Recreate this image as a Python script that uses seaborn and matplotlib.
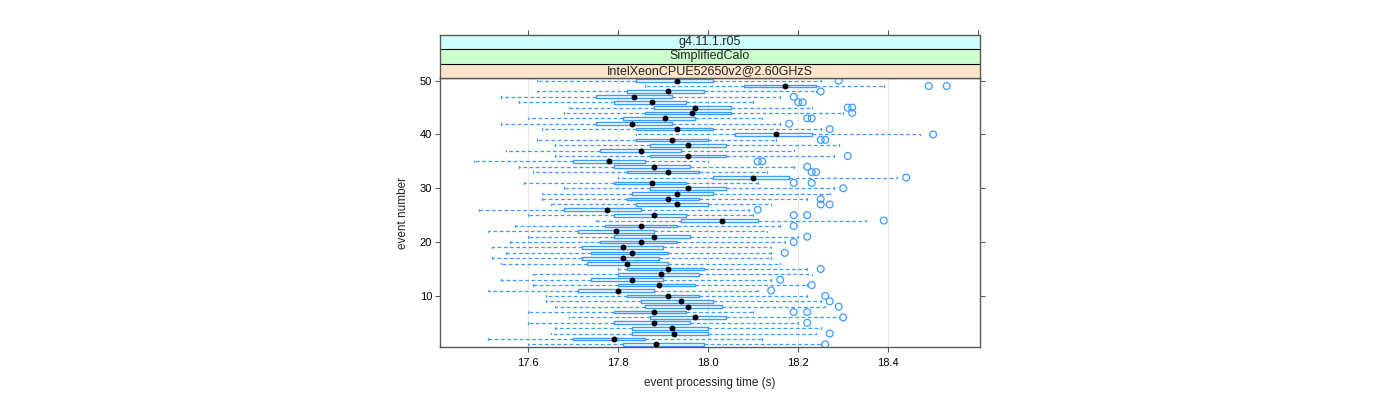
import matplotlib
matplotlib.use("Agg")
import matplotlib.pyplot as plt
import seaborn as sns

# ---------------- data ----------------
events = list(range(1, 51))

whisker_low = [17.60, 17.51, 17.65, 17.66, 17.60, 17.69, 17.60, 17.66, 17.64, 17.64,
               17.51, 17.61, 17.54, 17.61, 17.80, 17.54, 17.52, 17.55, 17.52, 17.56,
               17.60, 17.51, 17.57, 17.75, 17.60, 17.49, 17.65, 17.63, 17.63, 17.68,
               17.59, 17.80, 17.61, 17.58, 17.48, 17.66, 17.55, 17.66, 17.62, 17.84,
               17.63, 17.54, 17.60, 17.68, 17.69, 17.58, 17.54, 17.62, 17.86, 17.62]

q1 = [17.81, 17.70, 17.83, 17.83, 17.79, 17.87, 17.79, 17.86, 17.85, 17.82,
      17.71, 17.80, 17.74, 17.80, 17.82, 17.73, 17.72, 17.74, 17.72, 17.76,
      17.79, 17.71, 17.77, 17.94, 17.79, 17.68, 17.84, 17.82, 17.83, 17.87,
      17.79, 18.01, 17.82, 17.79, 17.70, 17.87, 17.76, 17.87, 17.84, 18.06,
      17.84, 17.75, 17.81, 17.86, 17.88, 17.79, 17.75, 17.82, 18.08, 17.84]

median = [17.885, 17.79, 17.925, 17.92, 17.88, 17.97, 17.88, 17.955, 17.94, 17.91,
          17.80, 17.89, 17.83, 17.895, 17.91, 17.82, 17.81, 17.83, 17.81, 17.85,
          17.88, 17.795, 17.85, 18.03, 17.88, 17.775, 17.93, 17.91, 17.93, 17.955,
          17.875, 18.10, 17.91, 17.88, 17.78, 17.955, 17.85, 17.955, 17.92, 18.15,
          17.93, 17.83, 17.905, 17.965, 17.97, 17.875, 17.835, 17.91, 18.17, 17.93]

q3 = [17.99, 17.86, 18.00, 18.00, 17.96, 18.04, 17.95, 18.03, 18.01, 17.98,
      17.88, 17.97, 17.90, 17.98, 17.99, 17.91, 17.89, 17.91, 17.90, 17.93,
      17.96, 17.88, 17.93, 18.11, 17.95, 17.85, 18.00, 17.98, 18.01, 18.04,
      17.95, 18.18, 17.98, 17.96, 17.86, 18.04, 17.94, 18.04, 18.00, 18.23,
      18.01, 17.92, 17.97, 18.05, 18.05, 17.95, 17.92, 17.99, 18.24, 18.01]

whisker_high = [18.25, 18.12, 18.24, 18.25, 18.20, 18.29, 18.10, 18.26, 18.25, 18.22,
                18.11, 18.22, 18.14, 18.23, 18.22, 18.16, 18.14, 18.14, 18.14, 18.17,
                18.20, 18.13, 18.16, 18.35, 18.10, 18.09, 18.14, 18.22, 18.27, 18.28,
                18.11, 18.42, 18.13, 18.19, 18.00, 18.28, 18.19, 18.29, 18.15, 18.47,
                18.25, 18.16, 18.12, 18.30, 18.23, 18.10, 18.16, 18.24, 18.39, 18.25]

outlier_event = [1, 3, 5, 6, 7, 7, 8, 9, 10, 11, 12, 13, 15, 18, 20, 21, 23, 24,
                 25, 25, 26, 27, 27, 28, 30, 31, 31, 32, 33, 33, 34, 35, 35, 36,
                 39, 39, 40, 41, 42, 43, 43, 44, 45, 45, 46, 46, 47, 48, 49, 49, 50]
outlier_time = [18.26, 18.27, 18.22, 18.30, 18.19, 18.22, 18.29, 18.27, 18.26, 18.14,
                18.23, 18.16, 18.25, 18.17, 18.19, 18.22, 18.19, 18.39,
                18.19, 18.22, 18.11, 18.25, 18.27, 18.25, 18.30, 18.19, 18.23, 18.44,
                18.23, 18.24, 18.22, 18.11, 18.12, 18.31,
                18.25, 18.26, 18.50, 18.27, 18.18, 18.22, 18.23, 18.32, 18.31, 18.32,
                18.20, 18.21, 18.19, 18.25, 18.49, 18.53, 18.29]

strip_labels = ["IntelXeonCPUE52650v2@2.60GHzS", "SimplifiedCalo", "g4.11.1.r05"]
strip_colors = ["#FFE5CC", "#CCFFCC", "#CCFFFF"]
x_ticks = [17.6, 17.8, 18.0, 18.2, 18.4]
y_ticks = [10, 20, 30, 40, 50]

# ---------------- style ----------------
sns.set_theme(style="white")
plt.rcParams["font.family"] = ["Liberation Sans", "DejaVu Sans"]

BLUE = "#3d9cff"
FRAME = "#5a5a5a"
XLIM = (17.404, 18.604)

fig = plt.figure(figsize=(14, 4), dpi=100)
L, R = 440 / 1400, 980 / 1400
B, T = 1 - 347 / 400, 1 - 78 / 400
STRIP_TOP = 1 - 35 / 400

ax = fig.add_axes([L, B, R - L, T - B])

stats = [dict(whislo=lo, q1=a, med=m, q3=b, whishi=hi, fliers=[])
         for lo, a, m, b, hi in zip(whisker_low, q1, median, q3, whisker_high)]
bxp_kw = dict(positions=events, widths=0.5, showfliers=False, capwidths=0.3,
              boxprops=dict(color=BLUE, linewidth=1.0),
              whiskerprops=dict(color=BLUE, linewidth=0.9, linestyle=(0, (3, 2))),
              capprops=dict(color=BLUE, linewidth=0.9),
              medianprops=dict(visible=False))
try:
    ax.bxp(stats, orientation="horizontal", **bxp_kw)
except TypeError:
    ax.bxp(stats, vert=False, **bxp_kw)

sns.scatterplot(x=outlier_time, y=outlier_event, marker="o", s=24,
                facecolor="none", edgecolor=BLUE, linewidth=0.9, ax=ax, zorder=3)
sns.scatterplot(x=median, y=events, color="black", s=18, linewidth=0,
                ax=ax, zorder=4)

ax.set_xlim(*XLIM)
ax.set_ylim(0.5, 50.5)
ax.set_xticks(x_ticks)
ax.set_xticklabels([f"{v:.1f}" for v in x_ticks])
ax.set_yticks(y_ticks)
ax.set_yticklabels([str(v) for v in y_ticks])
ax.grid(axis="x", color="#e8e8e8", linewidth=0.8)
ax.grid(axis="y", visible=False)
ax.set_axisbelow(True)
ax.tick_params(axis="both", direction="out", length=3.6, width=0.8, color=FRAME,
               labelsize=8, labelcolor="black", pad=2)
ax.tick_params(axis="x", pad=4)
ax.tick_params(axis="y", left=True, right=True, labelright=False)
ax.tick_params(axis="x", bottom=True, top=False)
for s in ax.spines.values():
    s.set_color(FRAME)
    s.set_linewidth(1.0)
ax.set_xlabel("event processing time (s)", fontsize=8.5, labelpad=7)
ax.set_ylabel("event number", fontsize=8.5, labelpad=8)

# ---------------- strips ----------------
axs = fig.add_axes([L, T, R - L, STRIP_TOP - T])
axs.set_xlim(*XLIM)
axs.set_ylim(0, 3)
for i, (lab, col) in enumerate(zip(strip_labels, strip_colors)):
    axs.axhspan(i, i + 1, color=col, zorder=0)
    axs.text(sum(XLIM) / 2, i + 0.5, lab, ha="center", va="center", fontsize=9)
for yv in (1, 2):
    axs.axhline(yv, color="black", linewidth=0.8)
axs.set_xticks(x_ticks + [18.6])
axs.set_yticks([])
axs.grid(False)
axs.tick_params(axis="x", bottom=False, top=True, labelbottom=False, labeltop=False,
                direction="out", length=3.6, width=0.8, color=FRAME)
for s in axs.spines.values():
    s.set_color(FRAME)
    s.set_linewidth(1.0)

fig.savefig("out.png", dpi=100)
